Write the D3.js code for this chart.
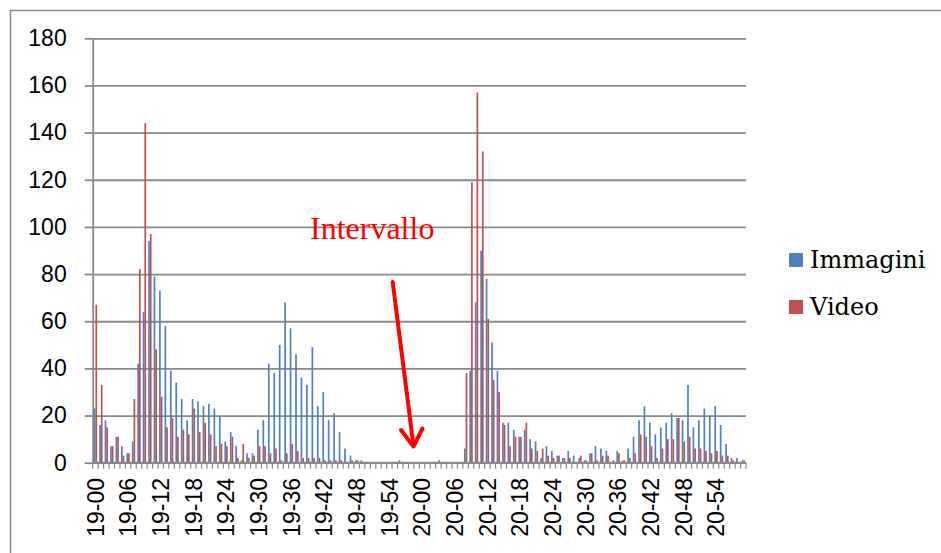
<!DOCTYPE html>
<html>
<head>
<meta charset="utf-8">
<script src="https://cdn.jsdelivr.net/npm/d3@7"></script>
<style>
  html, body { margin: 0; padding: 0; background: #fff; }
  svg { display: block; }
</style>
</head>
<body>
<script>
// ---------- DATA ----------
const hours = ["19", "20"];
const minutes = ["00","01","02","03","04","05","06","07","08","09",
  "10","11","12","13","14","15","16","17","18","19",
  "20","21","22","23","24","25","26","27","28","29",
  "30","31","32","33","34","35","36","37","38","39",
  "40","41","42","43","44","45","46","47","48","49",
  "50","51","52","53","54","55","56","57","58","59"];
const categories = hours.flatMap(h => minutes.map(m => h + "-" + m));

const seriesNames = ["Immagini", "Video"];

const immagini = [
  23,16,18,7,11,7,4,9,42,64, 94,79,73,58,39,34,27,18,27,26,
  24,25,23,20,9,13,7,1,4,4, 14,18,42,38,50,68,57,46,36,33,
  49,24,30,18,21,13,6,3,1,1, 0,0,0,0,0,0,1,0,0,0,
  0,0,0,0,0,0,0,0,6,39, 68,90,78,51,39,17,17,14,11,14,
  10,9,2,7,5,3,2,5,3,2, 1,4,7,6,5,0,5,1,6,11,
  18,24,17,12,15,17,21,19,18,33, 15,18,23,20,24,16,8,2,2,1
];
const video = [
  67,33,15,7,11,3,4,27,82,144, 97,48,28,15,19,11,14,12,23,13,
  17,12,7,8,7,11,2,8,2,3, 7,7,4,6,1,4,8,5,2,2,
  2,2,1,1,1,1,0,1,1,0, 0,0,0,0,0,0,0,0,0,0,
  0,0,0,1,0,0,0,0,38,119, 157,132,61,35,30,16,7,11,11,17,
  6,5,6,3,2,3,2,2,0,3, 1,4,1,3,3,1,4,1,2,4,
  12,11,7,2,6,10,10,19,9,11, 6,6,5,4,5,3,3,1,0,1
];

const yTicks = [0,20,40,60,80,100,120,140,160,180];
const xTickLabels = categories.filter((c, i) => i % 6 === 0);
const colors = { "Immagini": "#4f81bd", "Video": "#c0504d" };

// ---------- LAYOUT ----------
const W = 941, H = 553;
const x0 = 92.7, x1 = 746, yTop = 38.3, yBot = 462.7;
const gridColor = "#898989";

const svg = d3.select("body").append("svg").attr("width", W).attr("height", H);

// outer frame (left and top edges visible)
svg.append("path")
  .attr("d", `M10.5,${H} V10.5 H${W}`)
  .attr("fill", "none").attr("stroke", "#8c8c8c").attr("stroke-width", 1.5);

const pad = 0.38;
const x = d3.scaleBand().domain(categories).range([x0, x1])
  .paddingInner(pad).paddingOuter(pad / 2);
const xs = d3.scaleBand().domain(seriesNames).range([0, x.bandwidth()]);
const y = d3.scaleLinear().domain([0, 180]).range([yBot, yTop]);

// gridlines
const grid = svg.append("g").attr("transform", `translate(${x0},0)`)
  .call(d3.axisRight(y).tickValues(yTicks).tickSize(x1 - x0).tickFormat(""));
grid.select(".domain").remove();
grid.selectAll(".tick line").attr("stroke", gridColor).attr("stroke-width", 1.8);

// y axis with labels
const yAxis = svg.append("g").attr("transform", `translate(${x0},0)`)
  .call(d3.axisLeft(y).tickValues(yTicks).tickSize(8).tickPadding(18).tickSizeOuter(0));
yAxis.select(".domain").attr("stroke", gridColor).attr("stroke-width", 1.8);
yAxis.selectAll(".tick line").attr("stroke", gridColor).attr("stroke-width", 1.8);
yAxis.selectAll(".tick text")
  .attr("font-family", "'Liberation Sans', Arial, sans-serif")
  .attr("font-size", 23).attr("fill", "#000");

// bars
const bars = svg.append("g");
seriesNames.forEach((s, si) => {
  const vals = si === 0 ? immagini : video;
  bars.selectAll(null).data(categories).enter().append("rect")
    .attr("x", (c) => x(c) + xs(s))
    .attr("width", xs.bandwidth())
    .attr("y", (c, i) => y(vals[i]))
    .attr("height", (c, i) => yBot - y(vals[i]))
    .attr("fill", colors[s]);
});

// x axis line
svg.append("line").attr("x1", x0).attr("x2", x1).attr("y1", yBot).attr("y2", yBot)
  .attr("stroke", gridColor).attr("stroke-width", 1.8);

// x ticks at category boundaries
const step = x.step();
const bounds = categories.map(c => x(c) - step * pad / 2).concat([x1]);
svg.append("g").selectAll("line").data(bounds).enter().append("line")
  .attr("x1", d => d).attr("x2", d => d)
  .attr("y1", yBot).attr("y2", yBot + 6)
  .attr("stroke", gridColor).attr("stroke-width", 1.2);

// x tick labels
svg.append("g").selectAll("text").data(xTickLabels).enter().append("text")
  .attr("transform", d => `translate(${x(d) + x.bandwidth() / 2},478) rotate(-90)`)
  .attr("text-anchor", "end")
  .attr("dy", "0.36em")
  .attr("font-family", "'Liberation Sans', Arial, sans-serif")
  .attr("font-size", 23).attr("fill", "#000")
  .text(d => d);

// legend
const legend = svg.append("g");
const legY = [260, 307];
seriesNames.forEach((s, i) => {
  legend.append("rect").attr("x", 789).attr("y", legY[i] - 7).attr("width", 14).attr("height", 14)
    .attr("fill", colors[s]);
  legend.append("text").attr("x", 810).attr("y", legY[i] + 8)
    .attr("font-family", "'DejaVu Serif', serif").attr("font-size", 24).attr("fill", "#000")
    .text(s);
});

// annotation
svg.append("text").attr("x", 310).attr("y", 239)
  .attr("font-family", "'Liberation Serif', 'Times New Roman', serif")
  .attr("font-size", 32).attr("fill", "#ff0000")
  .text("Intervallo");

const arrow = svg.append("g").attr("stroke", "#ff0000").attr("stroke-width", 4)
  .attr("fill", "none").attr("stroke-linecap", "round").attr("stroke-linejoin", "round");
arrow.append("line").attr("x1", 392.7).attr("y1", 282).attr("x2", 413.5).attr("y2", 446);
arrow.append("polyline").attr("points", "401,430 413.5,446.5 422.5,428.5");
</script>
</body>
</html>
